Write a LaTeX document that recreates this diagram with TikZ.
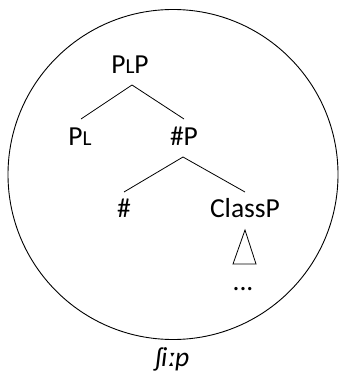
\documentclass[tikz,border=0pt]{standalone}
\usepackage{fontspec}
\setmainfont{Carlito}
\newcommand{\smL}{{\fontsize{21.3}{21.3}\selectfont L}}
\begin{document}
\begin{tikzpicture}[x=1pt,y=-1pt,
  lab/.style={inner sep=0pt,anchor=base,font=\fontsize{27.5}{30}\selectfont},
  edge/.style={line width=0.8pt}]
\useasboundingbox (0,0) rectangle (339,379);
\node[draw,circle,line width=0.9pt,minimum size=330pt,inner sep=0pt] (c) at (173,174.5) {};
\node[lab] (plp) at (130,73.3) {P\smL P};
\node[lab] (pl) at (80,145.5) {P\smL};
\node[lab] (np) at (184,145.3) {\#P};
\node[lab] (h) at (124,217.5) {\#};
\node[lab] (cp) at (245,217.7) {ClassP};
\node[lab] (dots) at (243,290) {...};
\node[lab] (ship) at (172,366.7) {\itshape ʃiːp};
\coordinate (t1) at (132,85);
\coordinate (t1l) at (81,119);
\coordinate (t1r) at (184,119);
\coordinate (t2) at (183,157);
\coordinate (t2l) at (124,192);
\coordinate (t2r) at (245,192);
\draw[edge] (t1l) -- (t1) -- (t1r);
\draw[edge] (t2l) -- (t2) -- (t2r);
\coordinate (ta) at (245,230);
\coordinate (tb) at (233,264);
\coordinate (tc) at (256,264);
\draw[edge] (ta) -- (tb) -- (tc) -- cycle;
\end{tikzpicture}
\end{document}
